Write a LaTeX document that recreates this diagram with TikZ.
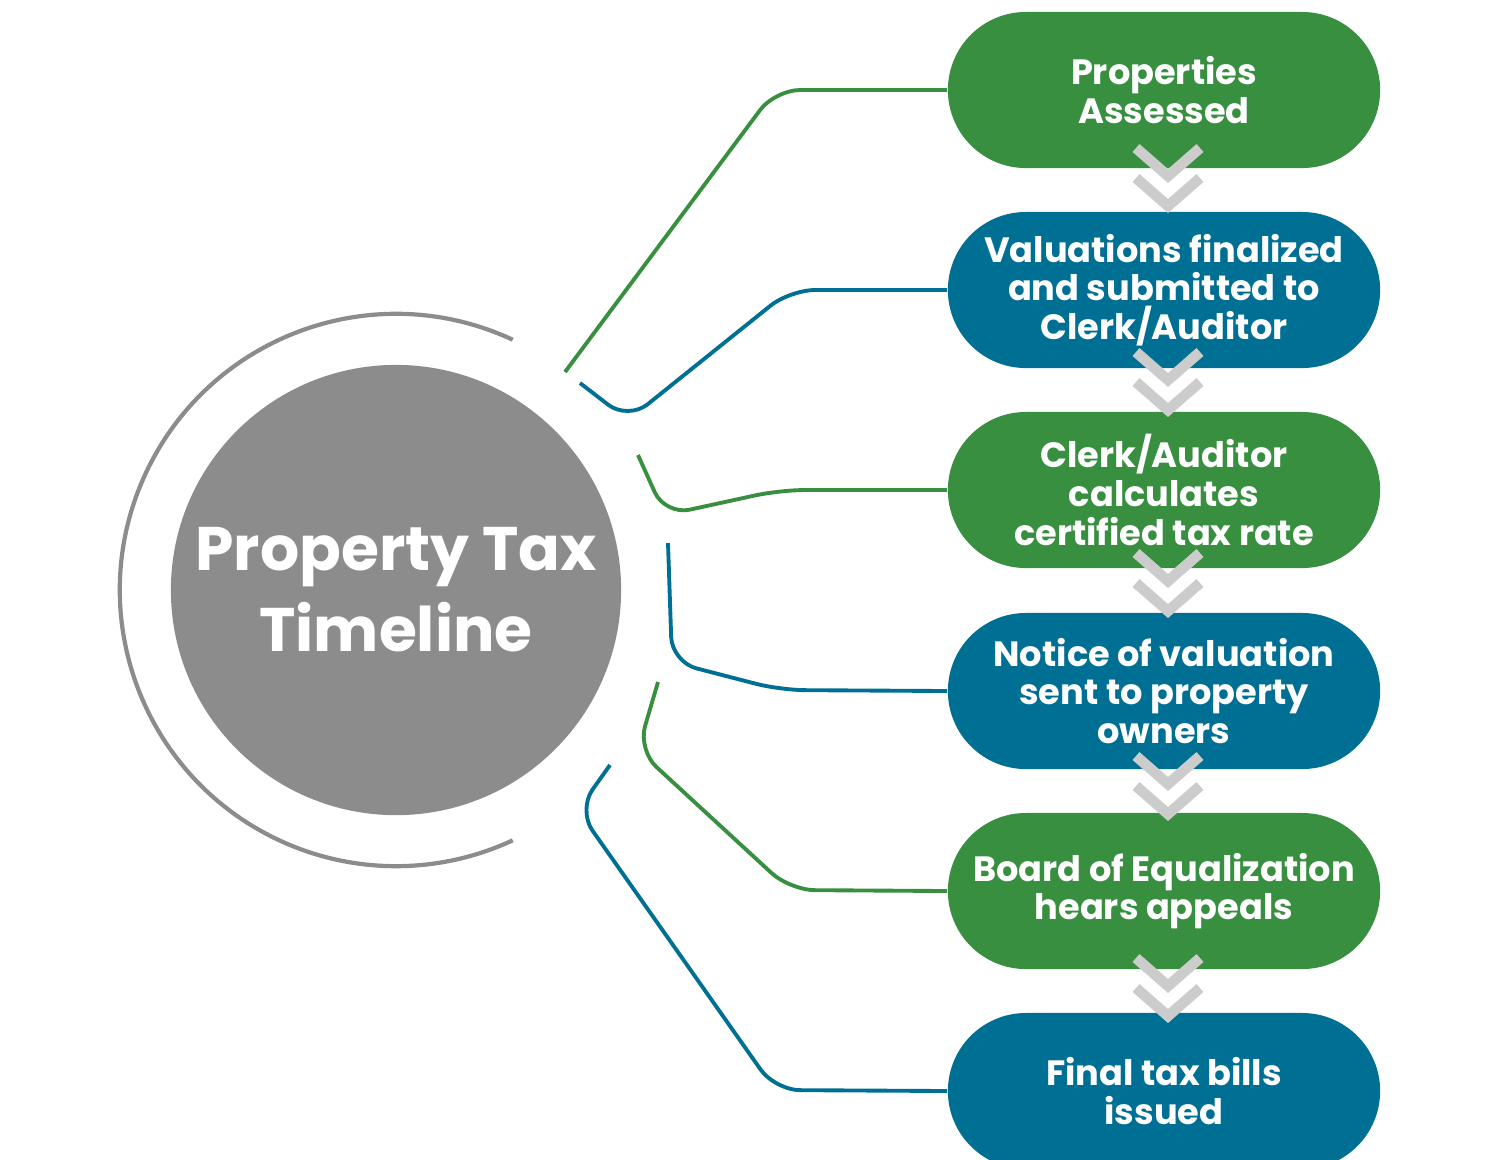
\documentclass[tikz,border=0pt]{standalone}
\usepackage{fontspec}
\setmainfont{Poppins}
\definecolor{pgreen}{HTML}{388F40}
\definecolor{pblue}{HTML}{006F94}
\definecolor{pgrey}{HTML}{8C8C8C}
\definecolor{chev}{HTML}{CCCCCC}
\begin{document}
\begin{tikzpicture}[x=0.01cm,y=-0.01cm,
  pill/.style={rectangle,rounded corners=0.78cm,minimum width=4.32cm,minimum height=1.56cm,text=white,align=center,font=\bfseries\fontsize{10}{11}\selectfont,inner sep=0pt},
  conn/.style={line width=1.1pt,rounded corners=0.25cm},
  chv/.style={chev,line width=3pt}]
\useasboundingbox (0,0) rectangle (1500,1159);
\clip (0,0) rectangle (1500,1159);
\node[circle,fill=pgrey,minimum size=4.5cm,text=white,align=center,font=\bfseries\fontsize{17.5}{23}\selectfont] (c) at (396,590) {Property Tax\\Timeline};
\draw[pgrey,line width=1.2pt] (396,590) ++(65:2.76cm) arc[start angle=65,end angle=295,radius=2.76cm];
\node[pill,fill=pgreen] (p1) at (1164,90) {Properties\\Assessed};
\node[pill,fill=pblue] (p2) at (1164,290) {Valuations finalized\\and submitted to\\Clerk/Auditor};
\node[pill,fill=pgreen] (p3) at (1164,490) {Clerk/Auditor\\calculates\\certified tax rate};
\node[pill,fill=pblue] (p4) at (1164,691) {Notice of valuation\\sent to property\\owners};
\node[pill,fill=pgreen] (p5) at (1164,891) {Board of Equalization\\hears appeals};
\node[pill,fill=pblue] (p6) at (1164,1091) {Final tax bills\\issued};
\foreach \y in {148,352,553,756,958}{
  \draw[chv] (1136,\y) -- (1168,\y+28) -- (1200,\y);
  \draw[chv] (1136,\y+30) -- (1168,\y+58) -- (1200,\y+30);
}
\coordinate (s1) at (565,372);
\coordinate (s2) at (580,383);
\coordinate (s3) at (638,455);
\coordinate (s4) at (668,543);
\coordinate (s5) at (658,682);
\coordinate (s6) at (610,765);
\draw[conn,pgreen] (s1) -- (775,90) -- (p1.west);
\draw[conn,pblue] (s2) -- (628,420) -- (790,290) -- (p2.west);
\draw[conn,pgreen] (s3) -- (665,515) -- (780,490) -- (p3.west);
\draw[conn,pblue] (s4) -- (672,662) -- (780,690) -- (p4.west);
\draw[conn,pgreen] (s5) -- (638,750) -- (790,890) -- (p5.west);
\draw[conn,pblue] (s6) -- (578,810) -- (775,1090) -- (p6.west);
\end{tikzpicture}
\end{document}
